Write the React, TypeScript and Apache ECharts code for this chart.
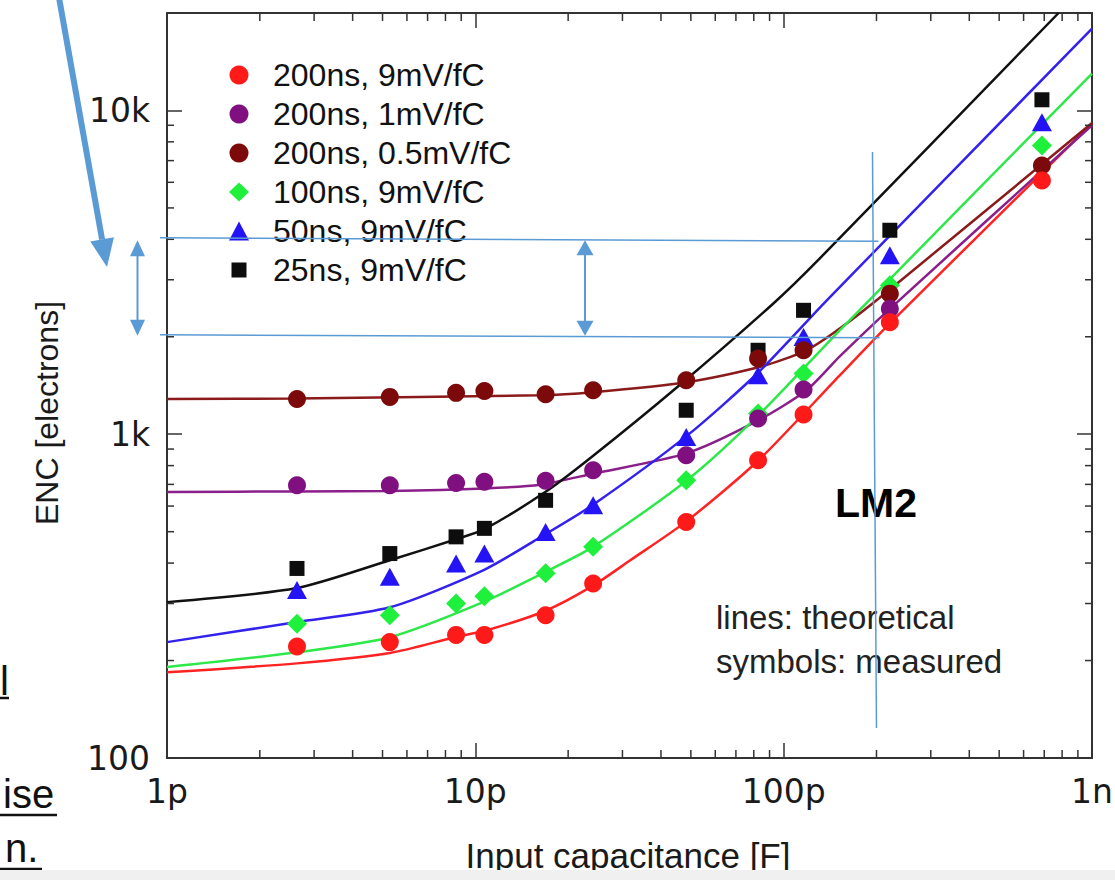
import { useEffect, useRef } from 'react';
import * as echarts from 'echarts';

// ---------- data ----------
const seriesNames = [
  '200ns, 9mV/fC',
  '200ns, 1mV/fC',
  '200ns, 0.5mV/fC',
  '100ns, 9mV/fC',
  '50ns, 9mV/fC',
  '25ns, 9mV/fC',
];

// input capacitance of the measured points, pF
const capMeasured = [2.64, 5.28, 8.66, 10.7, 16.9, 24.1, 48.3, 82.6, 116, 221, 688];
// measured ENC [electrons]
const encRed9 = [221, 228, 240, 240, 276, 346, 536, 831, 1150, 2217, 6082];
const encPurple1 = [696, 696, 707, 713, 718, 774, 861, 1118, 1374, 2443, null];
const encDarkRed05 = [1285, 1304, 1342, 1360, 1329, 1367, 1468, 1713, 1817, 2718, 6763];
const encGreen100 = [260, 276, 300, 316, 372, 449, 721, 1158, 1539, 2884, 7798];
const encBlue50 = [330, 363, 399, 428, 499, 604, 981, 1521, 1997, 3568, 9204];
const encBlack25 = [385, 428, 482, 512, 625, null, 1186, 1817, 2414, 4266, 10790];

// theoretical curves (capacitance pF, ENC)
const thRedC = [1, 2.64, 5.28, 8.58, 10.9, 16.9, 24, 31.8, 48.6, 82.9, 152, 221, 1000];
const thRedE = [184, 196, 211, 236, 248, 285, 340, 408, 540, 831, 1520, 2200, 9120];
const thPurpleC = [1, 2.64, 5.28, 10.7, 16.2, 24, 48.6, 82.9, 118.5, 152, 221, 1000];
const thPurpleE = [663, 666, 668, 680, 698, 755, 874, 1105, 1367, 1740, 2440, 9000];
const thDarkRedC = [1, 2.64, 16.2, 24, 48.6, 82.9, 118.5, 152, 219, 1000];
const thDarkRedE = [1285, 1290, 1319, 1348, 1447, 1610, 1817, 2120, 2780, 9150];
const thGreenC = [1, 2.64, 5.28, 10.6, 16.8, 24, 48.6, 82.9, 152, 1000];
const thGreenE = [191, 212, 236, 303, 375, 448, 721, 1145, 2094, 13000];
const thBlueC = [1, 2.64, 5.28, 10.6, 16.8, 24, 48.6, 82.9, 138, 1000];
const thBlueE = [228, 263, 292, 380, 490, 604, 990, 1554, 2591, 17900];
const thBlackC = [1, 2.64, 5.28, 8.66, 10.7, 16.9, 24, 45.1, 92.4, 131, 779];
const thBlackE = [303, 335, 408, 474, 509, 664, 855, 1397, 2530, 3493, 20000];

// axes
const xMajorValues = [1, 10, 100, 1000];
const xMajorLabels = ['1p', '10p', '100p', '1n'];
const yMajorValues = [100, 1000, 10000];
const yMajorLabels = ['100', '1k', '10k'];
const xMin = 1;
const xMax = 1000;
const yMin = 100;
const yMax = 20000;

// annotation values (the marked 200p / 2k..4k window)
const markCap = 200;
const markEncHigh = 4000;
const markEncLow = 2000;

// ---------- styles ----------
const measuredStyles = [
  { color: '#ff1a1a', symbol: 'circle', size: 18, icon: 'circle' },
  { color: '#80107f', symbol: 'circle', size: 18, icon: 'circle' },
  { color: '#7d0a0a', symbol: 'circle', size: 18, icon: 'circle' },
  { color: '#1ef03c', symbol: 'diamond', size: 20, icon: 'diamond' },
  { color: '#2414f5', symbol: 'triangle', size: [20, 18], icon: 'triangle' },
  { color: '#0d0d0d', symbol: 'rect', size: 15, icon: 'path://M0,0M20,19M2.5,2h15v15h-15z' },
];
const lineColors = ['#ff2222', '#8a1f8a', '#8b1a1a', '#2ee84a', '#3322ee', '#111111'];

const measuredValues = [encRed9, encPurple1, encDarkRed05, encGreen100, encBlue50, encBlack25];
const theoryC = [thRedC, thPurpleC, thDarkRedC, thGreenC, thBlueC, thBlackC];
const theoryE = [thRedE, thPurpleE, thDarkRedE, thGreenE, thBlueE, thBlackE];

const ANN = '#5b9bd5';

function pairs(xs: number[], ys: (number | null)[]) {
  const out: number[][] = [];
  xs.forEach((x, i) => {
    const y = ys[i];
    if (y != null) out.push([x, y]);
  });
  return out;
}

function majorLabel(v: number, vals: number[], labels: string[]) {
  const i = vals.findIndex((m) => Math.abs(Math.log10(v) - Math.log10(m)) < 1e-6);
  return i >= 0 ? labels[i] : '';
}

function head(tipX: number, tipY: number, dx: number, dy: number, len: number, half: number) {
  const n = Math.hypot(dx, dy);
  const ux = dx / n;
  const uy = dy / n;
  const bx = tipX - ux * len;
  const by = tipY - uy * len;
  const qx = -uy;
  const qy = ux;
  return [
    [tipX, tipY],
    [bx + qx * half, by + qy * half],
    [bx - qx * half, by - qy * half],
  ];
}

export default function App() {
  const ref = useRef<HTMLDivElement>(null);

  useEffect(() => {
    if (!ref.current) return;
    const chart = echarts.init(ref.current, undefined, { renderer: 'svg' });

    const axisLine = { show: true, onZero: false, lineStyle: { color: '#333', width: 2 } };
    const axisTick = { show: true, inside: true, length: 15, lineStyle: { color: '#333', width: 1.5 } };
    const labelFont = { fontFamily: 'DejaVu Sans', fontSize: 33, color: '#1a1a1a' };

    const lineSeries = theoryC.map((cs, i) => ({
      type: 'line',
      name: 'theory ' + seriesNames[i],
      data: pairs(cs, theoryE[i]),
      xAxisIndex: 0,
      yAxisIndex: 0,
      showSymbol: false,
      symbol: 'none',
      smooth: 0.25,
      silent: true,
      z: 2,
      lineStyle: { color: lineColors[i], width: 2.5 },
      itemStyle: { color: lineColors[i] },
    }));

    // draw order: black first (bottom) ... red last (top)
    const scatterOrder = [5, 4, 3, 2, 1, 0];
    const scatterSeries = scatterOrder.map((i) => ({
      type: 'scatter',
      name: seriesNames[i],
      data: pairs(capMeasured, measuredValues[i]),
      xAxisIndex: 0,
      yAxisIndex: 0,
      symbol: measuredStyles[i].symbol,
      symbolSize: measuredStyles[i].size,
      z: 3,
      itemStyle: { color: measuredStyles[i].color, opacity: 1 },
    }));

    chart.setOption({
      animation: false,
      backgroundColor: '#ffffff',
      grid: {
        left: 167,
        right: 23,
        top: 13,
        bottom: 122,
        containLabel: false,
        outerBoundsMode: 'none',
      },
      legend: {
        orient: 'vertical',
        left: 229,
        top: 59,
        padding: 0,
        itemWidth: 20,
        itemHeight: 19,
        itemGap: 7,
        selectedMode: false,
        formatter: (name: string) => '{g| }' + name,
        textStyle: {
          fontFamily: 'Liberation Sans',
          fontSize: 32,
          color: '#111',
          rich: { g: { width: 19, fontSize: 32 } },
        },
        data: seriesNames.map((n, i) => ({ name: n, icon: measuredStyles[i].icon })),
      },
      xAxis: [
        {
          type: 'log',
          logBase: 10,
          min: xMin,
          max: xMax,
          position: 'bottom',
          axisLine,
          axisTick,
          splitLine: { show: false },
          minorTick: { show: false },
          axisLabel: {
            ...labelFont,
            margin: 17,
            formatter: (v: number) => majorLabel(v, xMajorValues, xMajorLabels),
          },
        },
        {
          type: 'log',
          logBase: 10,
          min: xMin,
          max: xMax,
          position: 'top',
          axisLine,
          axisTick,
          splitLine: { show: false },
          axisLabel: { show: false },
        },
      ],
      yAxis: [
        {
          type: 'log',
          logBase: 10,
          min: yMin,
          max: yMax,
          position: 'left',
          axisLine,
          axisTick,
          splitLine: { show: false },
          minorTick: { show: false },
          axisLabel: {
            ...labelFont,
            margin: 17,
            formatter: (v: number) => majorLabel(v, yMajorValues, yMajorLabels),
          },
        },
        {
          type: 'log',
          logBase: 10,
          min: yMin,
          max: yMax,
          position: 'right',
          axisLine,
          axisTick,
          splitLine: { show: false },
          axisLabel: { show: false },
        },
      ],
      series: [...lineSeries, ...scatterSeries],
    });

    const px = (v: number) => chart.convertToPixel({ xAxisIndex: 0 }, v) as unknown as number;
    const py = (v: number) => chart.convertToPixel({ yAxisIndex: 0 }, v) as unknown as number;

    const gLeft = px(xMin);
    const gRight = px(xMax);
    const gBottom = py(yMin);
    const gTop = py(yMax);

    const els: any[] = [];
    const tickStyle = { stroke: '#333', lineWidth: 1.5 };

    // minor ticks (log spaced)
    for (let d = xMin; d < xMax; d *= 10) {
      for (let k = 2; k <= 9; k++) {
        const x = px(d * k);
        els.push({ type: 'line', silent: true, z: 50, shape: { x1: x, y1: gBottom, x2: x, y2: gBottom - 8 }, style: tickStyle });
        els.push({ type: 'line', silent: true, z: 50, shape: { x1: x, y1: gTop, x2: x, y2: gTop + 8 }, style: tickStyle });
      }
    }
    for (let d = yMin; d < yMax; d *= 10) {
      for (let k = 2; k <= 9; k++) {
        const v = d * k;
        if (v >= yMax) continue;
        const y = py(v);
        els.push({ type: 'line', silent: true, z: 50, shape: { x1: gLeft, y1: y, x2: gLeft + 7, y2: y }, style: tickStyle });
        els.push({ type: 'line', silent: true, z: 50, shape: { x1: gRight, y1: y, x2: gRight - 7, y2: y }, style: tickStyle });
      }
    }

    // axis titles
    els.push({
      type: 'text',
      x: 628,
      y: 855,
      z: 60,
      style: {
        text: 'Input capacitance [F]',
        fontFamily: 'Liberation Sans',
        fontSize: 35,
        fill: '#1a1a1a',
        align: 'center',
        verticalAlign: 'middle',
      },
    });
    els.push({
      type: 'text',
      x: 47,
      y: 413,
      rotation: Math.PI / 2,
      z: 60,
      style: {
        text: 'ENC [electrons]',
        fontFamily: 'Liberation Sans',
        fontSize: 32,
        fill: '#1a1a1a',
        align: 'center',
        verticalAlign: 'middle',
      },
    });

    // notes inside the plot
    els.push({
      type: 'text',
      x: 716,
      y: 617,
      z: 60,
      style: { text: 'lines: theoretical', fontFamily: 'Liberation Sans', fontSize: 33, fill: '#222', align: 'left', verticalAlign: 'middle' },
    });
    els.push({
      type: 'text',
      x: 716,
      y: 661,
      z: 60,
      style: { text: 'symbols: measured', fontFamily: 'Liberation Sans', fontSize: 33, fill: '#222', align: 'left', verticalAlign: 'middle' },
    });
    els.push({
      type: 'text',
      x: 876,
      y: 503,
      z: 60,
      style: { text: 'LM2', fontFamily: 'Liberation Sans', fontSize: 41, fontWeight: 'bold', fill: '#000', align: 'center', verticalAlign: 'middle' },
    });

    // blue annotation overlay
    const yHi = py(markEncHigh);
    const yLo = py(markEncLow);
    const xMark = px(markCap);
    const annLine = { stroke: ANN, lineWidth: 1.5 };
    els.push({ type: 'line', z: 100, shape: { x1: 160, y1: yHi - 1.5, x2: xMark + 2, y2: yHi + 2 }, style: annLine });
    els.push({ type: 'line', z: 100, shape: { x1: 160, y1: yLo - 2, x2: xMark + 3, y2: yLo + 1 }, style: annLine });
    els.push({ type: 'line', z: 100, shape: { x1: xMark - 4, y1: 152, x2: xMark, y2: 728 }, style: annLine });

    const dbl = (x: number, yA: number, yB: number, len: number, half: number) => {
      els.push({ type: 'line', z: 100, shape: { x1: x, y1: yA + len - 2, x2: x, y2: yB - len + 2 }, style: { stroke: ANN, lineWidth: 2 } });
      els.push({ type: 'polygon', z: 100, shape: { points: head(x, yA, 0, -1, len, half) }, style: { fill: ANN } });
      els.push({ type: 'polygon', z: 100, shape: { points: head(x, yB, 0, 1, len, half) }, style: { fill: ANN } });
    };
    dbl(137.5, yHi + 1, yLo - 1, 16, 7.5);
    dbl(585, yHi + 1, yLo - 1, 15, 8.5);

    // big pointer arrow from the slide
    const tipX = 107;
    const tipY = 267;
    const fromX = 58;
    const fromY = -8;
    const hd = head(tipX, tipY, tipX - fromX, tipY - fromY, 28, 12);
    const baseX = (hd[1][0] + hd[2][0]) / 2;
    const baseY = (hd[1][1] + hd[2][1]) / 2;
    els.push({ type: 'line', z: 100, shape: { x1: fromX, y1: fromY, x2: baseX, y2: baseY }, style: { stroke: ANN, lineWidth: 6 } });
    els.push({ type: 'polygon', z: 100, shape: { points: hd }, style: { fill: ANN } });

    // cut-off underlined slide text at the left edge
    const slideText = (t: string, x: number, y: number) =>
      els.push({
        type: 'text',
        x,
        y,
        z: 60,
        style: { text: t, fontFamily: 'Liberation Sans', fontSize: 40, fill: '#111', align: 'left', verticalAlign: 'middle' },
      });
    slideText('l', 0, 681);
    slideText('ise', 3, 794);
    slideText('n.', 5, 848);
    const ul = { stroke: '#111', lineWidth: 2.5 };
    els.push({ type: 'line', z: 60, shape: { x1: 0, y1: 698, x2: 9, y2: 698 }, style: ul });
    els.push({ type: 'line', z: 60, shape: { x1: 0, y1: 815, x2: 57, y2: 815 }, style: ul });
    els.push({ type: 'line', z: 60, shape: { x1: 0, y1: 869, x2: 42, y2: 869 }, style: ul });

    // grey slide band at the bottom
    els.push({ type: 'rect', z: 200, shape: { x: 0, y: 870, width: 1115, height: 12 }, style: { fill: '#f0f0f0' } });

    chart.setOption({ graphic: { elements: els } });

    return () => {
      chart.dispose();
    };
  }, []);

  return (
    <div
      ref={ref}
      style={{ position: 'fixed', left: 0, top: 0, width: 1115, height: 880, background: '#ffffff' }}
    />
  );
}
